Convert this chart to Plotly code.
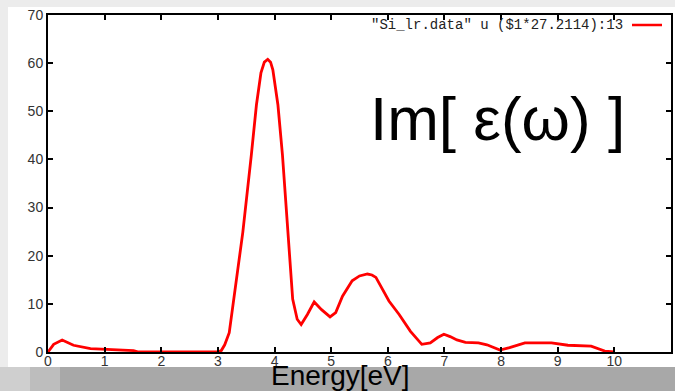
import plotly.graph_objects as go

# Data (energy in eV, Im[eps])
energy = [0.0, 0.10, 0.25, 0.45, 0.75, 1.04, 1.51, 1.60, 2.0, 2.5, 3.0, 3.06, 3.12, 3.20, 3.32, 3.44, 3.59,
          3.68, 3.76, 3.82, 3.88, 3.93, 3.97, 4.06, 4.14, 4.23, 4.32, 4.40, 4.47, 4.58, 4.70, 4.83, 4.98, 5.08,
          5.20, 5.37, 5.50, 5.64, 5.72, 5.79, 5.90, 6.02, 6.20, 6.40, 6.60, 6.75, 6.88, 6.99,
          7.10, 7.22, 7.37, 7.60, 7.75, 7.98, 8.15, 8.42, 8.89, 9.18, 9.59, 9.70, 9.83, 10.0]
im_eps = [0.0, 1.6, 2.5, 1.4, 0.7, 0.5, 0.3, 0.0, 0.0, 0.0, 0.0, 0.3, 1.5, 4.0, 14.4, 24.9, 40.9,
          51.3, 58.0, 60.2, 60.8, 60.2, 58.6, 51.3, 40.9, 24.9, 11.0, 6.8, 5.7, 7.8, 10.4, 8.8, 7.3, 8.2,
          11.6, 14.8, 15.8, 16.2, 16.0, 15.5, 13.3, 10.6, 7.8, 4.3, 1.6, 1.9, 3.0, 3.7,
          3.2, 2.5, 2.0, 1.9, 1.5, 0.4, 0.9, 1.9, 1.9, 1.4, 1.2, 0.8, 0.2, 0.0]

x_ticks = list(range(0, 12))
y_ticks = list(range(0, 80, 10))

legend_label = '"Si_lr.data" u ($1*27.2114):13'
panel_label = "Im[ ε(ω) ]"
x_title = "Energy[eV]"

W, H = 675, 391
L, R, T, B = 48, 4, 15, 39
PW, PH = W - L - R, H - T - B


def px(xp):
    return (xp - L) / PW


def py(yp):
    return (H - B - yp) / PH


fig = go.Figure()
fig.add_trace(go.Scatter(x=energy, y=im_eps, mode="lines",
                         line=dict(color="#ff0000", width=2.8), showlegend=False,
                         name=legend_label))

tickfont = dict(family="Liberation Sans, Arial, sans-serif", size=14, color="#333333")
axis_common = dict(showgrid=False, zeroline=False, showline=True, linecolor="black", linewidth=2,
                   mirror="ticks", ticks="inside", ticklen=5, tickwidth=1.5, tickcolor="black",
                   tickfont=tickfont, automargin=False)

fig.update_xaxes(range=[0, 11], tickvals=x_ticks, ticktext=[str(v) for v in x_ticks],
                 ticklabelstandoff=-5, **axis_common)
fig.update_yaxes(range=[0, 70], tickvals=y_ticks, ticktext=[str(v) for v in y_ticks], **axis_common)

shapes = [
    # white panel
    dict(type="rect", xref="paper", yref="paper", x0=px(8), x1=px(676), y0=py(367), y1=py(7),
         fillcolor="white", line=dict(width=0), layer="below"),
    # gray bottom strip
    dict(type="rect", xref="paper", yref="paper", x0=px(-2), x1=px(677), y0=py(392), y1=py(367),
         fillcolor="#a8a8a8", line=dict(width=0), layer="below"),
    dict(type="rect", xref="paper", yref="paper", x0=px(-2), x1=px(30), y0=py(392), y1=py(367),
         fillcolor="#cfcfcf", line=dict(width=0), layer="below"),
    dict(type="rect", xref="paper", yref="paper", x0=px(30), x1=px(60), y0=py(392), y1=py(367),
         fillcolor="#bdbdbd", line=dict(width=0), layer="below"),
    # legend sample line
    dict(type="line", xref="paper", yref="paper", x0=px(632), x1=px(662), y0=py(25), y1=py(25),
         line=dict(color="#ff0000", width=2.5)),
]

annotations = [
    dict(text=legend_label, xref="paper", yref="paper", x=px(625), y=py(25), xanchor="right",
         yanchor="middle", showarrow=False,
         font=dict(family="Liberation Mono, DejaVu Sans Mono, monospace", size=14, color="#222222")),
    dict(text=panel_label, xref="paper", yref="paper", x=px(497), y=py(118), xanchor="center",
         yanchor="middle", showarrow=False,
         font=dict(family="Liberation Sans, Arial, sans-serif", size=62, color="black")),
    dict(text=x_title, xref="paper", yref="paper", x=px(340), y=py(375), xanchor="center",
         yanchor="middle", showarrow=False,
         font=dict(family="Liberation Sans, Arial, sans-serif", size=28, color="black")),
]

fig.update_layout(
    width=W, height=H,
    margin=dict(l=L, r=R, t=T, b=B, pad=0),
    paper_bgcolor="#ececec", plot_bgcolor="white",
    shapes=shapes, annotations=annotations, showlegend=False,
)

fig.write_html("out.html", config={"displayModeBar": False},
               post_script="document.body.style.margin='0';document.body.style.overflow='hidden';")
